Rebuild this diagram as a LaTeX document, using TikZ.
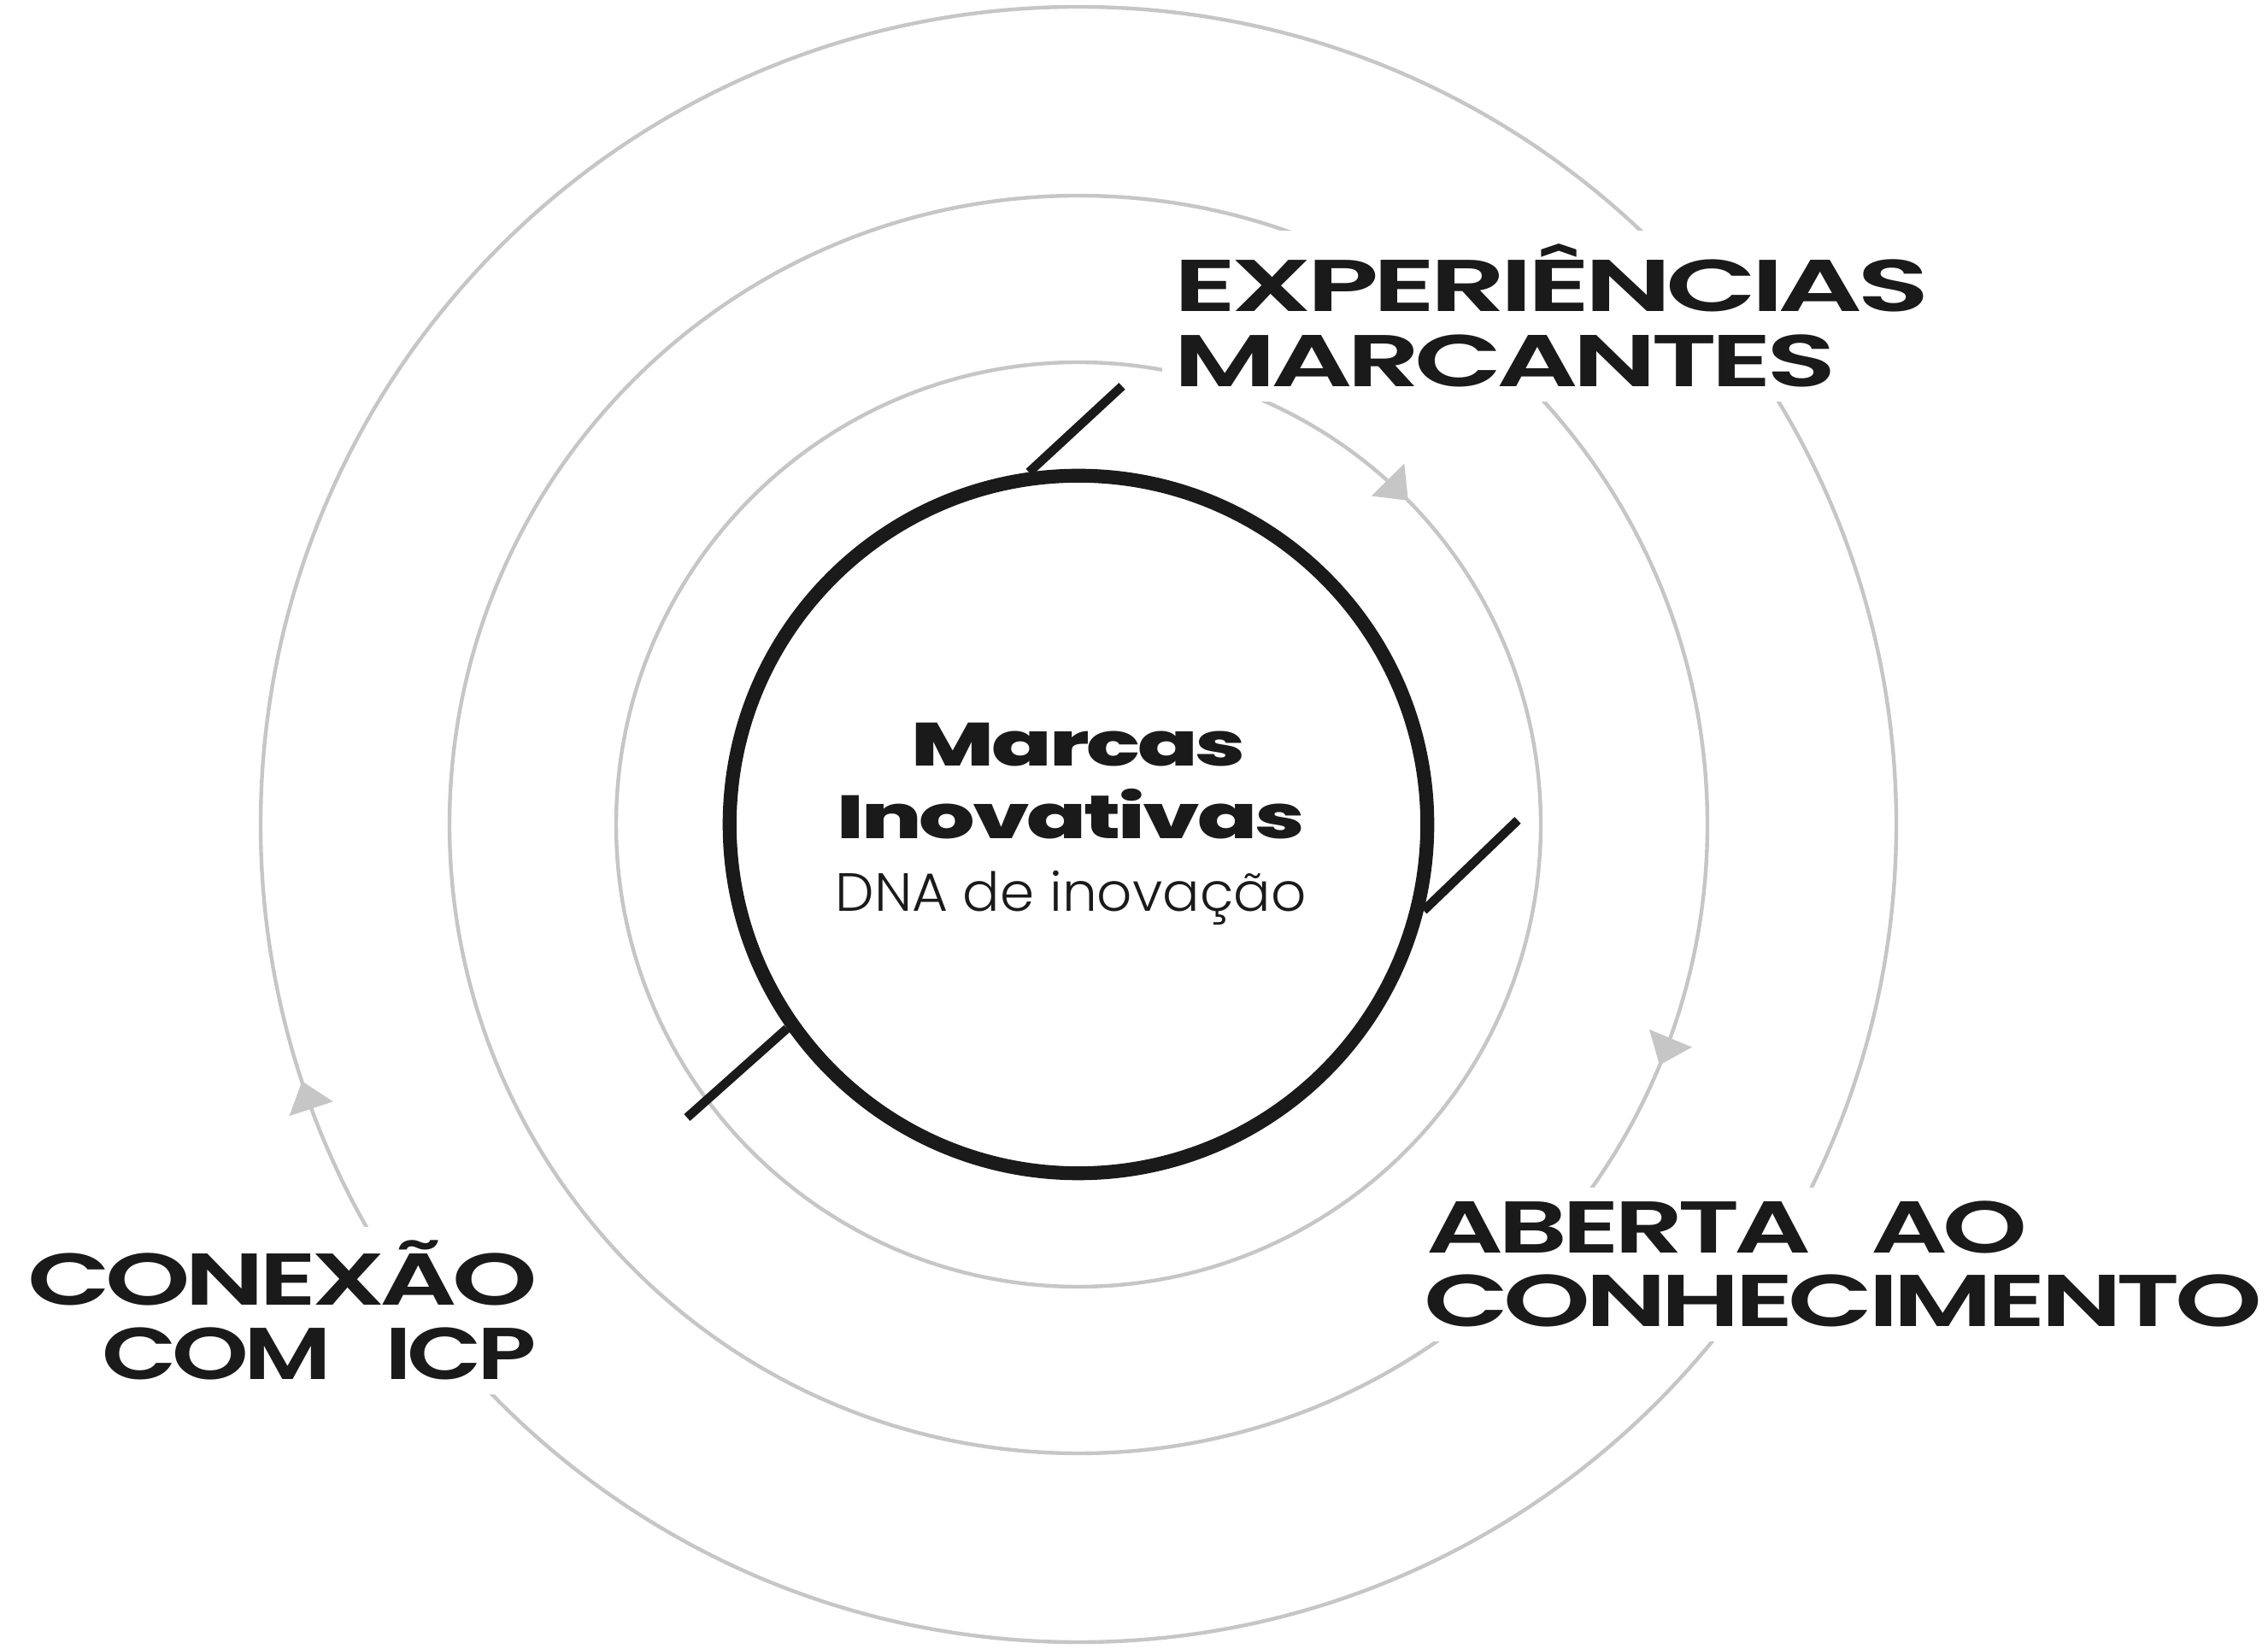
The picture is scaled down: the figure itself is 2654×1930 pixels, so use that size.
\documentclass[tikz,border=0pt]{standalone}
\usepackage{fontspec}
\usepackage{graphicx}
\newfontfamily\lblfont{Poppins SemiBold}[LetterSpace=-5]
\newfontfamily\heavyfont{Poppins ExtraBold}[LetterSpace=-3]
\newfontfamily\lightfont{Poppins Light}
\definecolor{ringgray}{RGB}{198,198,198}
\definecolor{ink}{RGB}{26,26,26}
\newlength\px
\setlength\px{0.01cm}
\begin{document}
\begin{tikzpicture}[x=0.01cm,y=0.01cm,
  ring/.style={draw=ringgray, line width=1.25pt},
  tick/.style={draw=ink, line width=3pt},
  lbl/.style={font=\lblfont\fontsize{24.4}{25}\selectfont, fill=white, text=ink, inner xsep=0.14cm, inner ysep=4.6pt},
  heavy/.style={font=\heavyfont\fontsize{20.3}{22}\selectfont, text=ink, inner sep=0pt},
  light/.style={font=\lightfont\fontsize{17.9}{20}\selectfont, text=ink, inner sep=0pt}
]
\useasboundingbox (0,0) rectangle (2654,1930);
\coordinate (c) at (1262,965);
% gray rings
\draw[ring] (c) circle (541);
\draw[ring] (c) circle (736);
\draw[ring] (c) circle (957);
% arrow heads on rings (clockwise)
\foreach \a/\r in {44.5/541, -22.5/736, 198.3/957}
  \fill[ringgray, rotate around={\a:(c)}] (1262+\r,965) -- (1262+\r-27,999) -- (1262+\r+27,999) -- cycle;
% core circle
\node[circle, draw=ink, line width=4.6pt, minimum size=8.16cm, inner sep=0pt] (core) at (c) {};
% ticks
\coordinate (t1) at (1313,1478);
\coordinate (t2) at (1776,970);
\coordinate (t3) at (804,622);
\draw[tick] (core.98) -- (t1);
\draw[tick] (core.-14) -- (t2);
\draw[tick] (core.215) -- (t3);
% labels
\node[lbl, anchor=base west] (exp1) at (1359,1565) {\resizebox{884\px}{\height}{EXPERIÊNCIAS}};
\node[lbl, anchor=base west] (exp2) at (1359,1477) {\resizebox{775\px}{\height}{MARCANTES}};
\node[lbl, anchor=base east] (con1) at (643,402) {\resizebox{596\px}{\height}{CONEXÃO}};
\node[lbl, anchor=base east] (con2) at (643,315) {\resizebox{509\px}{\height}{COM\hspace{0.55em}ICP}};
\node[lbl, anchor=base west] (abe1) at (1655,463) {\resizebox{702\px}{\height}{ABERTA\hspace{0.55em}AO}};
\node[lbl, anchor=base west] (abe2) at (1652,377) {\resizebox{980\px}{\height}{CONHECIMENTO}};
% centre text
\node[heavy, anchor=base] (m1) at (1262,1033) {\resizebox{391\px}{\height}{Marcas}};
\node[heavy, anchor=base] (m2) at (1253,948) {\resizebox{547\px}{\height}{Inovativas}};
\node[light, anchor=base] (m3) at (1253,863) {\resizebox{551\px}{\height}{DNA de inovação}};
\end{tikzpicture}
\end{document}
